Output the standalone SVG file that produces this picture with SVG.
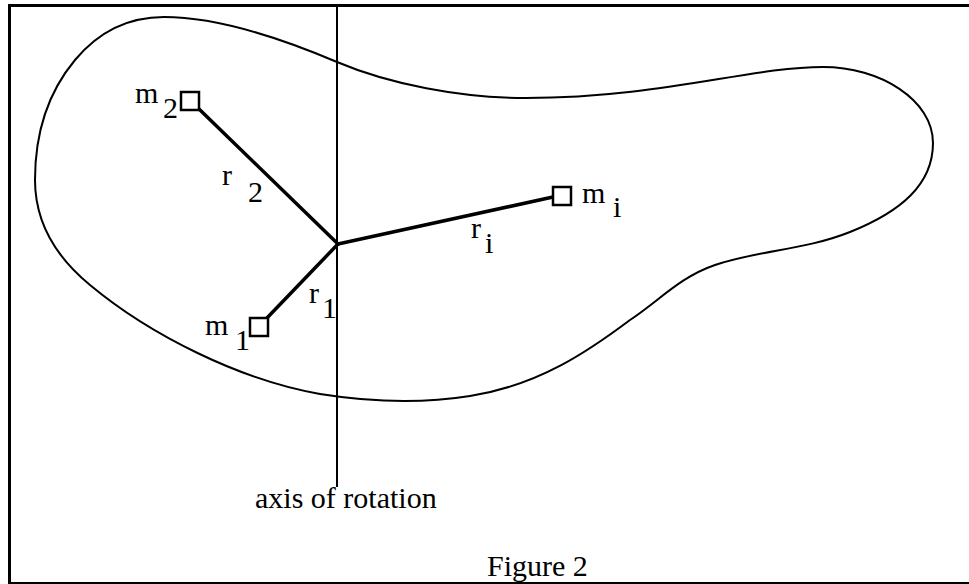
<svg xmlns="http://www.w3.org/2000/svg" width="969" height="584" viewBox="0 0 969 584">
<style>
.t{font-family:"Liberation Serif","Times New Roman",serif;font-size:30px;fill:#000}
.box{fill:#fff;stroke:#000;stroke-width:2.5}
.r{stroke:#000;stroke-width:3.5;fill:none;stroke-linecap:round}
.thin{stroke:#000;stroke-width:2;fill:none}
</style>
<rect x="0" y="0" width="969" height="584" fill="#fff"/>
<rect x="9.5" y="5.5" width="980" height="578" fill="none" stroke="#000" stroke-width="3"/>
<g id="body">
<path class="thin" stroke-width="2.5" d="M164,17 C220,17 290,42 337,62 C389,84 460,98 526,98 C660,98 750,67 823,67 C880,67 933,100 933,143 C933,185 900,212 850,232 C805,250 760,250 715,265 C680,277 660,300 630,320 C590,350 540,385 470,396 C420,404 370,402 320,394 C240,380 150,335 90,285 C45,248 35,210 35,180 C35,130 50,90 75,60 C100,30 130,17 164,17 Z"/>
</g>
<g id="connectors">
<line class="thin" x1="337" y1="5" x2="337" y2="487"/>
<line class="r" x1="338" y1="244" x2="199" y2="109"/>
<line class="r" x1="338" y1="244" x2="266" y2="319"/>
<line class="r" x1="338" y1="244" x2="553" y2="197"/>
</g>
<g id="m2">
<rect class="box" x="181" y="92" width="18" height="18"/>
<text class="t" x="135" y="103">m</text><text class="t" x="163" y="118">2</text>
</g>
<g id="m1">
<rect class="box" x="250" y="318" width="18" height="18"/>
<text class="t" x="205" y="335">m</text><text class="t" x="235" y="350">1</text>
</g>
<g id="mi">
<rect class="box" x="553" y="187" width="18" height="18"/>
<text class="t" x="582" y="203">m</text><text class="t" x="613" y="217">i</text>
</g>
<g id="r2"><text class="t" x="222" y="185">r</text><text class="t" x="248" y="202">2</text></g>
<g id="r1"><text class="t" x="309" y="303">r</text><text class="t" x="322" y="318">1</text></g>
<g id="ri"><text class="t" x="471" y="238">r</text><text class="t" x="485" y="253">i</text></g>
<g id="axis-label"><text class="t" x="255" y="508">axis of rotation</text></g>
<g id="caption"><text class="t" x="487" y="576">Figure 2</text></g>
</svg>
